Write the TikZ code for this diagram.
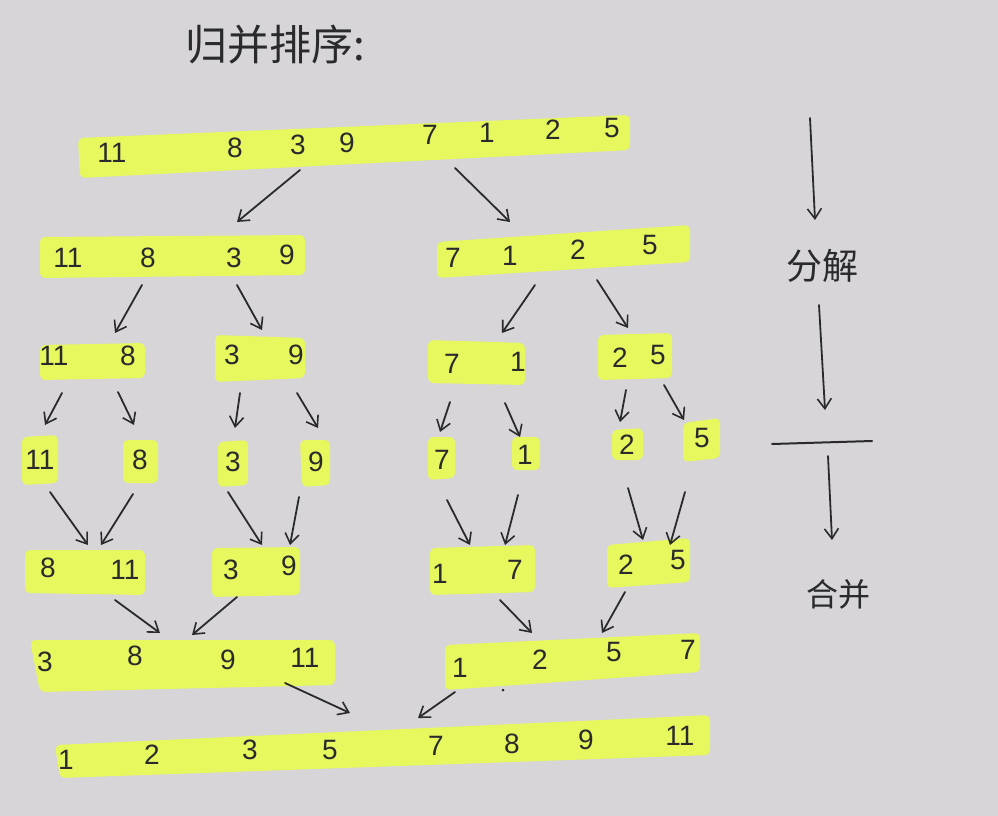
\documentclass[tikz,border=0pt]{standalone}
\usepackage{fontspec}
\setmainfont{Liberation Sans}
\newfontfamily\cjk{Noto Sans CJK SC}
\usetikzlibrary{arrows.meta}
\definecolor{paper}{HTML}{D7D5D7}
\definecolor{hlc}{HTML}{E6F85E}
\definecolor{ink}{HTML}{2A2A2C}
\tikzset{
  hl/.style={fill=hlc, rounded corners=5pt},
  num/.style={text=ink, font=\fontsize{28}{30}\selectfont, inner sep=0pt},
  arr/.style={draw=ink, line width=1.8pt, line cap=round, -{Straight Barb[length=10pt,width=14pt,line width=1.6pt]}},
  inkline/.style={draw=ink, line width=2pt, line cap=round},
  cjktext/.style={text=ink, inner sep=0pt}
}
\begin{document}
\begin{tikzpicture}[x=1pt,y=-1pt]
\fill[paper] (0,0) rectangle (998,816);
\useasboundingbox (0,0) rectangle (998,816);

% title
\node[cjktext, font=\cjk\fontsize{42}{44}\selectfont] (title) at (275,45) {归并排序:};

% ---------- highlight bars ----------
\fill[hl] (78,138) -- (630,115) -- (630,150) -- (80,178) -- cycle;
\fill[hl] (40,237) -- (305,235) -- (305,275) -- (40,278) -- cycle;
\fill[hl] (437,242) -- (690,225) -- (690,262) -- (437,278) -- cycle;
\fill[hl] (40,345) -- (145,343) -- (145,378) -- (40,380) -- cycle;
\fill[hl] (215,335) -- (305,338) -- (305,378) -- (215,382) -- cycle;
\fill[hl] (428,340) -- (525,343) -- (525,385) -- (428,383) -- cycle;
\fill[hl] (598,335) -- (672,333) -- (672,378) -- (598,380) -- cycle;
\fill[hl] (22,437) -- (58,435) -- (58,483) -- (22,485) -- cycle;
\fill[hl] (123,440) -- (158,440) -- (158,483) -- (123,483) -- cycle;
\fill[hl] (218,442) -- (248,440) -- (248,485) -- (218,487) -- cycle;
\fill[hl] (300,440) -- (330,440) -- (330,485) -- (302,487) -- cycle;
\fill[hl] (428,437) -- (455,437) -- (455,478) -- (428,480) -- cycle;
\fill[hl] (512,437) -- (540,437) -- (540,470) -- (512,470) -- cycle;
\fill[hl] (612,430) -- (643,428) -- (643,460) -- (612,460) -- cycle;
\fill[hl] (683,423) -- (720,418) -- (720,458) -- (683,462) -- cycle;
\fill[hl] (25,550) -- (145,550) -- (145,595) -- (25,593) -- cycle;
\fill[hl] (212,548) -- (300,547) -- (300,595) -- (212,597) -- cycle;
\fill[hl] (430,548) -- (535,545) -- (535,592) -- (430,595) -- cycle;
\fill[hl] (607,545) -- (690,538) -- (690,582) -- (607,588) -- cycle;
\fill[hl] (30,640) -- (335,640) -- (335,685) -- (40,692) -- cycle;
\fill[hl] (445,645) -- (700,633) -- (700,672) -- (445,690) -- cycle;
\fill[hl] (55,745) -- (710,715) -- (710,755) -- (60,778) -- cycle;

% ---------- numbers ----------
% row 0
\node[num] (r0a) at (112,153) {11};
\node[num] (r0b) at (235,148) {8};
\node[num] (r0c) at (298,145) {3};
\node[num] (r0d) at (347,143) {9};
\node[num] (r0e) at (430,135) {7};
\node[num] (r0f) at (487,133) {1};
\node[num] (r0g) at (553,130) {2};
\node[num] (r0h) at (612,128) {5};
% row 1
\node[num] (r1a) at (68,258) {11};
\node[num] (r1b) at (148,258) {8};
\node[num] (r1c) at (234,258) {3};
\node[num] (r1d) at (287,255) {9};
\node[num] (r1e) at (453,258) {7};
\node[num] (r1f) at (510,256) {1};
\node[num] (r1g) at (578,250) {2};
\node[num] (r1h) at (650,245) {5};
% row 2
\node[num] (r2a) at (54,356) {11};
\node[num] (r2b) at (128,356) {8};
\node[num] (r2c) at (232,355) {3};
\node[num] (r2d) at (296,355) {9};
\node[num] (r2e) at (452,364) {7};
\node[num] (r2f) at (518,362) {1};
\node[num] (r2g) at (620,358) {2};
\node[num] (r2h) at (658,355) {5};
% row 3
\node[num] (r3a) at (40,460) {11};
\node[num] (r3b) at (140,460) {8};
\node[num] (r3c) at (233,462) {3};
\node[num] (r3d) at (316,462) {9};
\node[num] (r3e) at (442,460) {7};
\node[num] (r3f) at (525,455) {1};
\node[num] (r3g) at (627,445) {2};
\node[num] (r3h) at (702,438) {5};
% row 4
\node[num] (r4a) at (48,568) {8};
\node[num] (r4b) at (125,570) {11};
\node[num] (r4c) at (231,570) {3};
\node[num] (r4d) at (289,566) {9};
\node[num] (r4e) at (440,574) {1};
\node[num] (r4f) at (515,570) {7};
\node[num] (r4g) at (626,565) {2};
\node[num] (r4h) at (678,560) {5};
% row 5
\node[num] (r5a) at (45,662) {3};
\node[num] (r5b) at (135,656) {8};
\node[num] (r5c) at (228,660) {9};
\node[num] (r5d) at (305,658) {11};
\node[num] (r5e) at (460,668) {1};
\node[num] (r5f) at (540,660) {2};
\node[num] (r5g) at (614,652) {5};
\node[num] (r5h) at (688,650) {7};
\fill[ink] (503,690) circle (1.5pt);
% row 6
\node[num] (r6a) at (66,760) {1};
\node[num] (r6b) at (152,755) {2};
\node[num] (r6c) at (250,750) {3};
\node[num] (r6d) at (330,750) {5};
\node[num] (r6e) at (436,746) {7};
\node[num] (r6f) at (512,744) {8};
\node[num] (r6g) at (586,740) {9};
\node[num] (r6h) at (680,736) {11};

% ---------- arrow end points ----------
\coordinate (a1s) at (300,170); \coordinate (a1e) at (237,222);
\coordinate (a2s) at (455,168); \coordinate (a2e) at (510,222);
\coordinate (b1s) at (142,285); \coordinate (b1e) at (115,333);
\coordinate (b2s) at (237,285); \coordinate (b2e) at (262,330);
\coordinate (b3s) at (535,285); \coordinate (b3e) at (502,333);
\coordinate (b4s) at (597,280); \coordinate (b4e) at (628,328);
\coordinate (c1s) at (62,393);  \coordinate (c1e) at (45,425);
\coordinate (c2s) at (118,392); \coordinate (c2e) at (134,425);
\coordinate (c3s) at (240,393); \coordinate (c3e) at (235,428);
\coordinate (c4s) at (297,393); \coordinate (c4e) at (318,428);
\coordinate (c5s) at (450,402); \coordinate (c5e) at (440,432);
\coordinate (c6s) at (505,403); \coordinate (c6e) at (520,437);
\coordinate (c7s) at (626,390); \coordinate (c7e) at (620,422);
\coordinate (c8s) at (664,385); \coordinate (c8e) at (684,420);
\coordinate (d1s) at (50,492);  \coordinate (d1e) at (88,545);
\coordinate (d2s) at (133,494); \coordinate (d2e) at (101,545);
\coordinate (d3s) at (228,492); \coordinate (d3e) at (262,545);
\coordinate (d4s) at (299,497); \coordinate (d4e) at (290,545);
\coordinate (d5s) at (447,500); \coordinate (d5e) at (470,545);
\coordinate (d6s) at (518,495); \coordinate (d6e) at (505,545);
\coordinate (d7s) at (628,488); \coordinate (d7e) at (643,540);
\coordinate (d8s) at (685,492); \coordinate (d8e) at (670,545);
\coordinate (e1s) at (115,600); \coordinate (e1e) at (160,633);
\coordinate (e2s) at (237,597); \coordinate (e2e) at (192,635);
\coordinate (e3s) at (500,600); \coordinate (e3e) at (532,633);
\coordinate (e4s) at (625,592); \coordinate (e4e) at (602,633);
\coordinate (f1s) at (285,683); \coordinate (f1e) at (350,713);
\coordinate (f2s) at (455,692); \coordinate (f2e) at (418,718);

\foreach \p in {a1,a2,b1,b2,b3,b4,c1,c2,c3,c4,c5,c6,c7,c8,d1,d2,d3,d4,d5,d6,d7,d8,e1,e2,e3,e4,f1,f2}
  \draw[arr] (\p s) -- (\p e);

% ---------- right side legend ----------
\coordinate (g1s) at (810,118); \coordinate (g1e) at (815,220);
\node[cjktext, font=\cjk\fontsize{36}{38}\selectfont] (fenjie) at (822,266) {分解};
\coordinate (g2s) at (819,305); \coordinate (g2e) at (825,410);
\coordinate (hl1) at (772,444); \coordinate (hl2) at (872,441);
\draw[inkline] (hl1) -- (hl2);
\coordinate (g3s) at (828,456); \coordinate (g3e) at (832,540);
\node[cjktext, font=\cjk\fontsize{32}{34}\selectfont] (hebing) at (838,594) {合并};
\foreach \p in {g1,g2,g3}
  \draw[arr] (\p s) -- (\p e);
\end{tikzpicture}
\end{document}
